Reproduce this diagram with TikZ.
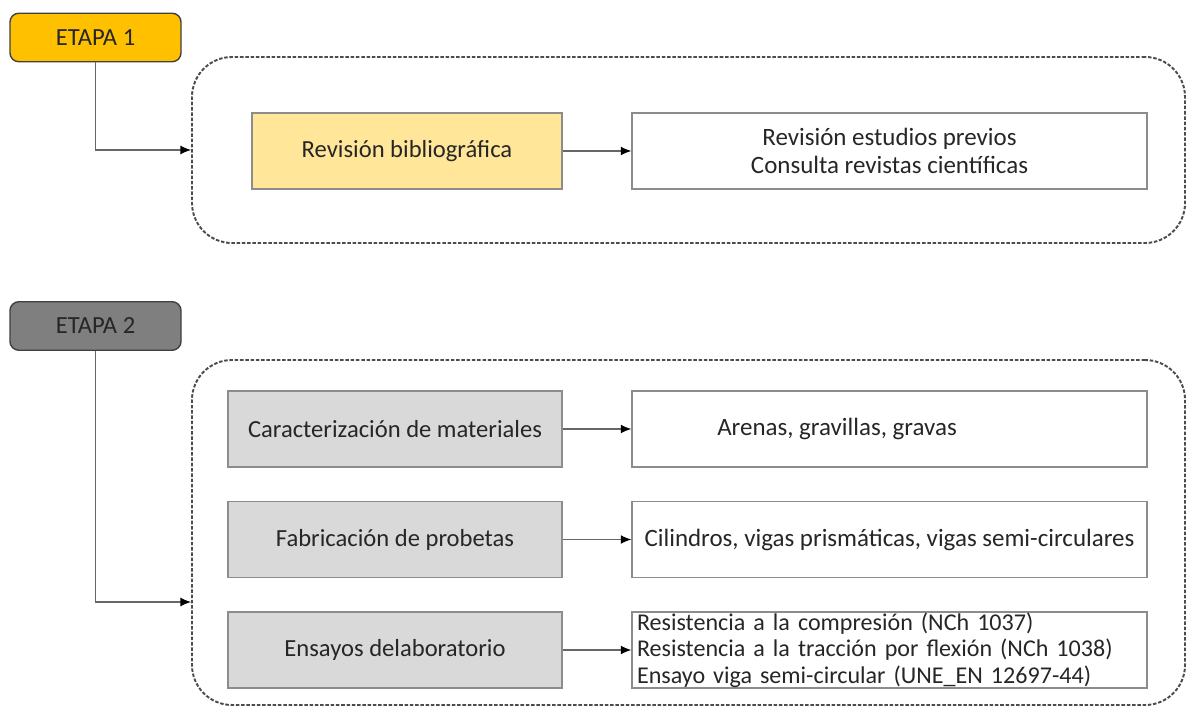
\documentclass[tikz,border=0pt]{standalone}
\usepackage{fontspec}
\setmainfont{Carlito}
\usepackage{tikz}
\usetikzlibrary{arrows.meta, positioning}
\definecolor{etapaorange}{HTML}{FFC000}
\definecolor{etapagray}{HTML}{7F7F7F}
\definecolor{softyellow}{HTML}{FFE699}
\definecolor{softgray}{HTML}{D9D9D9}
\definecolor{framegray}{HTML}{8C8C8C}
\tikzset{%
	etapa/.style={
		draw=black!75,
		line width=0.8pt,
		rounded corners=5pt,
		minimum width=3.42cm,
		minimum height=0.97cm,
		text=black!85,
		font=\fontsize{14}{16}\selectfont
	},
	stagebox/.style={
		draw=black!70,
		line width=1.1pt,
		dash pattern=on 2pt off 1pt,
		rounded corners=0.8cm,
		minimum width=19.86cm
	},
	taskbox/.style={
		draw=framegray,
		line width=0.8pt,
		minimum height=1.52cm,
		text=black!85,
		font=\fontsize{14}{16}\selectfont
	},
	detailbox/.style={
		draw=framegray,
		line width=0.8pt,
		minimum width=10.3cm,
		minimum height=1.52cm,
		text=black!85,
		font=\fontsize{14.2}{16}\selectfont
	},
	link/.style={
		draw=black!60,
		line width=0.6pt,
		-{Latex[length=6pt,width=5pt,color=black]}
	},
}

\begin{document}
\begin{tikzpicture}
	\useasboundingbox (0,0) rectangle (23.88,14.26);
	
	% Etapa 1
	\node[etapa, fill=etapaorange] (e1) at (1.91,13.51) {ETAPA 1};
	\node[stagebox, minimum height=3.72cm] (c1) at (13.77,11.26) {};
	\node[taskbox, fill=softyellow, minimum width=6.2cm] (rev) at (8.14,11.24) {Revisión bibliográfica};
	\node[detailbox, align=center] (revd) at (17.79,11.24) {Revisión estudios previos\\Consulta revistas científicas};
	
	\draw[link] (e1.south) |- (c1.west);
	\draw[link] (rev) -- (revd);
	
	% Etapa 2
	\node[etapa, fill=etapagray] (e2) at (1.91,7.74) {ETAPA 2};
	\node[stagebox, minimum height=6.9cm] (c2) at (13.77,3.61) {};
	\coordinate (in2) at (c2.west |- 0,2.22);
	
	\node[taskbox, fill=softgray, minimum width=6.68cm] (car) at (7.9,5.68) {Caracterización de materiales};
	\node[taskbox, fill=softgray, minimum width=6.68cm] (fab) at (7.9,3.47) {Fabricación de probetas};
	\node[taskbox, fill=softgray, minimum width=6.68cm] (ens) at (7.9,1.26) {Ensayos delaboratorio};
	
	\node[detailbox] (card) at (17.79,5.68) {\hspace*{-2.1cm}Arenas, gravillas, gravas};
	\node[detailbox] (fabd) at (17.79,3.47) {Cilindros, vigas prismáticas, vigas semi-circulares};
	\node[detailbox, align=left, text width=10.1cm, inner xsep=1.5pt, inner ysep=0pt,
		font=\fontsize{13.7}{15.2}\selectfont] (ensd) at (17.79,1.26)
		{Resistencia a la compresión (NCh 1037)\\Resistencia a la tracción por flexión (NCh 1038)\\Ensayo viga semi-circular (UNE\_EN 12697-44)};
	
	\draw[link] (e2.south) |- (in2);
	\draw[link] (car) -- (card);
	\draw[link] (fab) -- (fabd);
	\draw[link] (ens) -- (ensd);
	
\end{tikzpicture}
\end{document}
